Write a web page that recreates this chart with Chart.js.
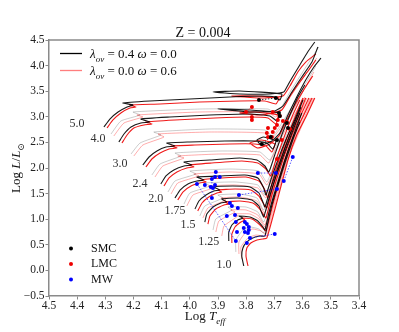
<!DOCTYPE html>
<html><head><meta charset="utf-8">
<script src="https://cdn.jsdelivr.net/npm/chart.js@4.4.1/dist/chart.umd.min.js"></script>
<style>html,body{margin:0;padding:0;background:#fff}canvas{display:block}</style>
</head><body>
<canvas id="c" width="399" height="332"></canvas>
<script>
// ---------- data (log Teff, log L) ----------
const xTicks = [4.5,4.4,4.3,4.2,4.1,4.0,3.9,3.8,3.7,3.6,3.5,3.4];
const yTicks = [-0.5,0.0,0.5,1.0,1.5,2.0,2.5,3.0,3.5,4.0,4.5];

// black tracks: lambda_ov = 0.4, omega = 0.0
const blk50 = [[4.305,2.801],[4.284,2.957],[4.255,3.094],[4.223,3.191],[4.202,3.230],[4.238,3.270],[4.142,3.309],[4.000,3.348],[3.858,3.387],[3.745,3.406],[3.699,3.387],[3.681,3.328],[3.674,3.445],[3.823,3.504],[3.918,3.484],[3.823,3.445],[3.716,3.445],[3.667,3.484],[3.652,3.621],[3.638,3.758],[3.610,4.012],[3.582,4.266],[3.557,4.461]];
const blk40 = [[4.252,2.508],[4.234,2.664],[4.209,2.801],[4.174,2.879],[4.142,2.898],[4.174,2.957],[4.071,2.996],[3.929,3.035],[3.787,3.055],[3.716,3.016],[3.691,2.918],[3.684,3.074],[3.787,3.133],[3.901,3.152],[3.787,3.094],[3.699,3.113],[3.670,3.211],[3.638,3.484],[3.603,3.777],[3.567,4.070],[3.546,4.363]];
const blk30 = [[4.167,2.059],[4.145,2.215],[4.117,2.332],[4.085,2.410],[4.053,2.430],[4.082,2.488],[4.000,2.508],[3.876,2.527],[3.770,2.527],[3.727,2.488],[3.706,2.371],[3.695,2.527],[3.738,2.605],[3.762,2.547],[3.748,2.449],[3.709,2.527],[3.681,2.684],[3.652,3.035],[3.621,3.387],[3.589,3.719],[3.560,3.973],[3.535,4.148]];
const blk24 = [[4.103,1.688],[4.085,1.844],[4.057,1.961],[4.021,2.039],[3.993,2.059],[4.021,2.117],[3.929,2.156],[3.823,2.195],[3.762,2.156],[3.734,2.039],[3.720,1.922],[3.699,2.254],[3.674,2.645],[3.645,3.035],[3.617,3.387],[3.592,3.621]];
const blk20 = [[4.053,1.414],[4.035,1.570],[4.007,1.688],[3.975,1.746],[3.950,1.766],[3.975,1.824],[3.894,1.844],[3.805,1.863],[3.759,1.805],[3.738,1.609],[3.730,1.473],[3.713,1.766],[3.688,2.156],[3.660,2.547],[3.628,2.938],[3.599,3.328]];
const blk175 = [[3.982,1.199],[3.968,1.355],[3.943,1.473],[3.915,1.551],[3.894,1.570],[3.915,1.629],[3.848,1.648],[3.787,1.629],[3.755,1.512],[3.741,1.336],[3.734,1.238],[3.716,1.570],[3.691,1.961],[3.663,2.391],[3.635,2.801],[3.606,3.191]];
const blk15 = [[3.947,0.945],[3.940,1.102],[3.918,1.238],[3.890,1.316],[3.869,1.336],[3.887,1.395],[3.830,1.414],[3.780,1.375],[3.755,1.258],[3.745,1.121],[3.738,1.043],[3.723,1.336],[3.699,1.766],[3.670,2.215],[3.638,2.684],[3.610,3.074]];
const blk125 = [[3.862,0.574],[3.862,0.750],[3.851,0.887],[3.830,0.984],[3.812,1.023],[3.826,1.063],[3.787,1.043],[3.759,0.965],[3.741,0.848],[3.734,0.789],[3.720,1.121],[3.702,1.473],[3.681,1.844],[3.656,2.273],[3.628,2.703],[3.603,3.074]];
const blk10 = [[3.809,0.086],[3.816,0.281],[3.812,0.438],[3.798,0.555],[3.777,0.633],[3.752,0.672],[3.734,0.672],[3.723,0.945],[3.709,1.277],[3.688,1.668],[3.663,2.098],[3.635,2.547],[3.610,2.898]];

// red tracks: lambda_ov = 0.0, omega = 0.6
const red50 = [[4.294,2.781],[4.273,2.938],[4.245,3.074],[4.213,3.172],[4.191,3.191],[4.213,3.230],[4.106,3.250],[3.965,3.289],[3.823,3.309],[3.734,3.309],[3.695,3.250],[3.684,3.367],[3.770,3.406],[3.851,3.406],[3.752,3.367],[3.670,3.406],[3.645,3.602],[3.617,3.875],[3.589,4.070],[3.553,4.227]];
const red40 = [[4.241,2.488],[4.223,2.645],[4.199,2.781],[4.163,2.840],[4.135,2.859],[4.156,2.898],[4.053,2.938],[3.911,2.977],[3.787,2.996],[3.723,2.977],[3.695,2.859],[3.688,3.035],[3.770,3.094],[3.823,3.074],[3.745,3.035],[3.674,3.133],[3.642,3.426],[3.610,3.680],[3.578,3.914],[3.553,4.109]];
const red30 = [[4.156,2.020],[4.135,2.176],[4.106,2.293],[4.074,2.371],[4.046,2.391],[4.067,2.430],[3.982,2.449],[3.858,2.469],[3.770,2.469],[3.730,2.430],[3.709,2.313],[3.699,2.469],[3.745,2.547],[3.787,2.488],[3.759,2.391],[3.716,2.469],[3.684,2.625],[3.656,2.938],[3.624,3.270],[3.592,3.563],[3.564,3.797]];
const red24 = [[4.092,1.648],[4.074,1.805],[4.046,1.922],[4.011,2.000],[3.986,2.020],[4.004,2.059],[3.922,2.098],[3.816,2.137],[3.759,2.098],[3.730,1.980],[3.713,1.844],[3.695,2.156],[3.663,2.645],[3.635,3.035],[3.610,3.328]];
const red20 = [[4.043,1.375],[4.025,1.531],[3.996,1.648],[3.965,1.707],[3.943,1.727],[3.961,1.766],[3.887,1.805],[3.801,1.824],[3.755,1.746],[3.734,1.570],[3.723,1.414],[3.706,1.766],[3.684,2.156],[3.652,2.645],[3.624,3.035],[3.599,3.367]];
const red175 = [[3.972,1.160],[3.957,1.316],[3.933,1.434],[3.904,1.512],[3.887,1.531],[3.901,1.570],[3.840,1.590],[3.784,1.570],[3.755,1.453],[3.738,1.297],[3.727,1.219],[3.709,1.570],[3.677,2.156],[3.645,2.645],[3.613,3.035],[3.589,3.367]];
const red15 = [[3.936,0.906],[3.929,1.063],[3.908,1.199],[3.879,1.277],[3.862,1.297],[3.876,1.336],[3.823,1.355],[3.777,1.316],[3.752,1.199],[3.738,1.082],[3.730,1.023],[3.709,1.473],[3.670,2.156],[3.638,2.645],[3.606,3.035],[3.578,3.367]];
const red125 = [[3.851,0.535],[3.851,0.711],[3.840,0.848],[3.819,0.945],[3.805,0.984],[3.816,1.023],[3.780,1.004],[3.755,0.906],[3.738,0.809],[3.730,0.770],[3.706,1.277],[3.663,2.156],[3.631,2.645],[3.596,3.035],[3.567,3.367]];
const red10 = [[3.794,0.086],[3.801,0.281],[3.798,0.438],[3.784,0.535],[3.762,0.594],[3.741,0.613],[3.727,0.633],[3.699,1.180],[3.652,2.156],[3.621,2.645],[3.585,3.035],[3.557,3.367]];

// faint tracks at intermediate masses (grey / pink)
const f45g = [[4.280,2.664],[4.245,2.918],[4.177,3.035],[4.202,3.094],[3.965,3.152],[3.723,3.152],[3.691,3.055],[3.645,3.484],[3.543,4.363]];
const f45p = [[4.270,2.625],[4.234,2.879],[4.167,2.996],[4.188,3.035],[3.965,3.094],[3.723,3.094],[3.695,2.996],[3.642,3.406],[3.550,4.148]];
const f35g = [[4.209,2.273],[4.177,2.488],[4.103,2.645],[4.128,2.703],[3.929,2.762],[3.734,2.742],[3.706,2.625],[3.645,3.133],[3.553,3.992]];
const f35p = [[4.199,2.234],[4.167,2.449],[4.092,2.605],[4.113,2.664],[3.929,2.703],[3.734,2.684],[3.709,2.566],[3.642,3.074],[3.560,3.875]];
const f27g = [[4.135,1.863],[4.106,2.078],[4.032,2.234],[4.053,2.293],[3.894,2.332],[3.752,2.313],[3.716,2.156],[3.670,2.742],[3.596,3.523]];
const f27p = [[4.124,1.824],[4.096,2.039],[4.021,2.195],[4.043,2.234],[3.894,2.273],[3.752,2.254],[3.720,2.098],[3.667,2.684],[3.592,3.387]];
const f22g = [[4.078,1.531],[4.053,1.746],[3.979,1.883],[4.000,1.941],[3.858,1.980],[3.755,1.941],[3.727,1.727],[3.688,2.254],[3.603,3.328]];
const f22p = [[4.067,1.492],[4.043,1.707],[3.968,1.844],[3.986,1.883],[3.858,1.922],[3.755,1.883],[3.727,1.668],[3.677,2.254],[3.592,3.367]];
const f19g = [[4.021,1.297],[4.000,1.512],[3.929,1.648],[3.947,1.707],[3.840,1.727],[3.759,1.668],[3.734,1.473],[3.695,1.961],[3.610,3.172]];
const f19p = [[4.011,1.258],[3.989,1.473],[3.918,1.609],[3.936,1.648],[3.840,1.668],[3.759,1.609],[3.730,1.414],[3.681,2.117],[3.596,3.367]];
const f16g = [[3.965,1.063],[3.947,1.258],[3.883,1.414],[3.901,1.473],[3.823,1.492],[3.762,1.414],[3.738,1.180],[3.699,1.766],[3.610,3.094]];
const f16p = [[3.954,1.023],[3.936,1.219],[3.872,1.375],[3.890,1.414],[3.823,1.434],[3.762,1.355],[3.734,1.121],[3.674,2.117],[3.585,3.367]];
const f14g = [[3.918,0.789],[3.908,1.004],[3.851,1.180],[3.865,1.238],[3.801,1.238],[3.759,1.141],[3.738,0.945],[3.695,1.668],[3.610,3.016]];
const f14p = [[3.908,0.750],[3.897,0.965],[3.840,1.141],[3.855,1.180],[3.801,1.180],[3.759,1.082],[3.734,0.887],[3.667,2.117],[3.574,3.367]];
const f13p = [[3.887,0.672],[3.879,0.867],[3.830,1.063],[3.840,1.102],[3.787,1.102],[3.755,1.004],[3.734,0.848],[3.663,2.117],[3.571,3.367]];
const f115g = [[3.837,0.359],[3.837,0.594],[3.812,0.789],[3.787,0.848],[3.755,0.809],[3.738,0.730],[3.709,1.277],[3.610,2.938]];
const f115p = [[3.826,0.320],[3.826,0.555],[3.801,0.750],[3.777,0.809],[3.748,0.770],[3.730,0.711],[3.660,2.117],[3.564,3.367]];
const f11p = [[3.816,0.223],[3.819,0.457],[3.794,0.633],[3.766,0.691],[3.741,0.672],[3.727,0.672],[3.656,2.117],[3.560,3.367]];

// mass labels
const massLabels = ['5.0','4.0','3.0','2.4','2.0','1.75','1.5','1.25','1.0'];
const massLabelT = [4.401,4.326,4.248,4.177,4.121,4.053,4.007,3.933,3.879];
const massLabelL = [2.859,2.566,2.078,1.688,1.395,1.160,0.887,0.555,0.105];

// observed stars
const smcT = [3.755,3.695,3.684,3.681,3.656,3.652,3.713,3.691,3.745];
const smcL = [3.328,3.367,3.074,3.016,2.879,2.781,2.605,2.547,2.469];
const lmcT = [3.780,3.801,3.780,3.780,3.706,3.681,3.688,3.670,3.656,3.691,3.723,3.699,3.645,3.727,3.706,3.709,3.674,3.723,3.691];
const lmcL = [3.191,3.094,2.996,2.938,3.094,3.016,2.938,2.918,2.898,2.840,2.781,2.781,2.762,2.684,2.703,2.605,2.547,2.605,2.176];
const mwT = [3.908,3.911,3.894,3.922,3.947,3.926,3.911,3.918,3.922,3.975,3.826,3.858,3.851,3.830,3.869,3.840,3.837,3.805,3.798,3.809,3.791,3.791,3.833,3.805,3.794,3.787,3.837,3.798,3.699,3.759,3.695,3.691,3.667,3.635];
const mwL = [1.922,1.824,1.824,1.785,1.668,1.629,1.668,1.609,1.414,1.688,1.473,1.316,1.258,1.219,1.063,1.082,0.945,0.945,0.906,0.828,0.848,0.789,0.750,0.750,0.730,0.633,0.574,0.535,0.711,1.902,1.902,1.590,1.746,2.215];
const smcPairs = [[0,1],[6,8]];
const lmcPairs = [[0,1],[2,3],[10,13]];
const mwPairs = [[9,26],[33,32],[29,30],[10,31],[3,8],[25,28]];

// ---------- build ----------
const SERIF = '"Liberation Serif","DejaVu Serif",serif';
const BLACK = 'rgba(0,0,0,0.9)';
const RED = 'rgba(238,0,0,0.9)';
const GREYF = 'rgba(0,0,0,0.2)';
const PINKF = 'rgba(255,0,0,0.33)';

function track(pts, color, width, order) {
  return { data: pts.map(p => ({x: p[0], y: p[1]})), showLine: true, borderColor: color,
    borderWidth: width, pointRadius: 0, tension: 0.15, order: order, fill: false };
}
function stars(T, L, color) {
  return { data: T.map((t, i) => ({x: t, y: L[i]})), showLine: false, pointRadius: 2,
    pointBackgroundColor: color, pointBorderWidth: 0, order: 0 };
}
function pairs(T, L, list, color) {
  return list.map(([a, b]) => ({ data: [{x: T[a], y: L[a]}, {x: T[b], y: L[b]}], showLine: true,
    borderColor: color, borderWidth: 1, borderDash: [1.5, 1.5], pointRadius: 0, order: 0.5 }));
}

const faint = [[f45g,GREYF],[f45p,PINKF],[f35g,GREYF],[f35p,PINKF],[f27g,GREYF],[f27p,PINKF],[f22g,GREYF],[f22p,PINKF],
  [f19g,GREYF],[f19p,PINKF],[f16g,GREYF],[f16p,PINKF],[f14g,GREYF],[f14p,PINKF],[f13p,PINKF],[f115g,GREYF],[f115p,PINKF],[f11p,PINKF]];
const blacks = [blk50,blk40,blk30,blk24,blk20,blk175,blk15,blk125,blk10];
const reds = [red50,red40,red30,red24,red20,red175,red15,red125,red10];

const datasets = [];
faint.forEach(([p, c]) => datasets.push(track(p, c, 1, 3)));
reds.forEach(p => datasets.push(track(p, RED, 1.1, 2)));
blacks.forEach(p => datasets.push(track(p, BLACK, 1.1, 1)));
datasets.push(...pairs(smcT, smcL, smcPairs, 'rgba(0,0,0,0.8)'));
datasets.push(...pairs(lmcT, lmcL, lmcPairs, 'rgba(230,0,0,0.8)'));
datasets.push(...pairs(mwT, mwL, mwPairs, 'rgba(40,40,255,0.75)'));
datasets.push(stars(smcT, smcL, '#000'));
datasets.push(stars(lmcT, lmcL, '#ee0000'));
datasets.push(stars(mwT, mwL, '#0000ff'));

function drawRich(ctx, parts, x, y, size, align) {
  const fontFor = (st, sz) => (st.indexOf('i') >= 0 ? 'italic ' : '') + sz + 'px ' + SERIF;
  let total = 0;
  const items = parts.map(([t, st]) => {
    const sub = st.indexOf('s') >= 0; const sz = sub ? Math.round(size * 0.72) : size;
    ctx.font = fontFor(st, sz); const w = ctx.measureText(t).width; total += w;
    return {t, st, sz, sub, w};
  });
  let cx = align === 'center' ? x - total / 2 : x;
  ctx.textAlign = 'left'; ctx.textBaseline = 'alphabetic';
  for (const it of items) {
    ctx.font = fontFor(it.st, it.sz);
    ctx.fillText(it.t, cx, y + (it.sub ? size * 0.28 : 0));
    cx += it.w;
  }
}

const decor = {
  id: 'decor',
  afterDraw(chart) {
    const ctx = chart.ctx, a = chart.chartArea, xs = chart.scales.x, ys = chart.scales.y;
    ctx.save();
    ctx.strokeStyle = '#8a8a8a'; ctx.lineWidth = 1.5;
    ctx.beginPath(); ctx.moveTo(a.left, a.top); ctx.lineTo(a.right, a.top); ctx.lineTo(a.right, a.bottom); ctx.stroke();
    ctx.fillStyle = '#111';
    drawRich(ctx, [['Z = 0.004', 'n']], 203, 37, 14, 'center');
    drawRich(ctx, [['Log ', 'n'], ['T', 'i'], ['eff', 'is']], 205, 320, 13, 'center');
    ctx.save(); ctx.translate(16, 168); ctx.rotate(-Math.PI / 2);
    drawRich(ctx, [['Log ', 'n'], ['L', 'i'], ['/', 'n'], ['L', 'i'], ['\u2299', 's']], 0, 4, 13, 'center');
    ctx.restore();
    ctx.fillStyle = '#333'; ctx.font = '12px ' + SERIF; ctx.textAlign = 'center'; ctx.textBaseline = 'middle';
    massLabels.forEach((m, i) => ctx.fillText(m, xs.getPixelForValue(massLabelT[i]), ys.getPixelForValue(massLabelL[i])));
    ctx.lineWidth = 1.3;
    ctx.strokeStyle = '#000'; ctx.beginPath(); ctx.moveTo(60, 53.5); ctx.lineTo(82, 53.5); ctx.stroke();
    ctx.strokeStyle = 'rgba(255,40,40,0.6)'; ctx.beginPath(); ctx.moveTo(60, 70.5); ctx.lineTo(82, 70.5); ctx.stroke();
    ctx.fillStyle = '#111';
    drawRich(ctx, [['\u03bb', 'i'], ['ov', 'is'], [' = 0.4 ', 'n'], ['\u03c9', 'i'], [' = 0.0', 'n']], 90, 58, 13, 'left');
    drawRich(ctx, [['\u03bb', 'i'], ['ov', 'is'], [' = 0.0 ', 'n'], ['\u03c9', 'i'], [' = 0.6', 'n']], 90, 75, 13, 'left');
    const lg = [['SMC', '#000', 248.5], ['LMC', '#ee0000', 264], ['MW', '#0000ff', 279.5]];
    lg.forEach(([t, c, y]) => {
      ctx.fillStyle = c; ctx.beginPath(); ctx.arc(71, y, 2, 0, Math.PI * 2); ctx.fill();
      ctx.fillStyle = '#111'; ctx.font = '12px ' + SERIF; ctx.textAlign = 'left'; ctx.textBaseline = 'middle';
      ctx.fillText(t, 91, y);
    });
    ctx.restore();
  }
};

Chart.defaults.font.family = SERIF;
new Chart(document.getElementById('c'), {
  type: 'scatter',
  data: { datasets },
  options: {
    responsive: false, animation: false, devicePixelRatio: 1,
    layout: { padding: { top: 40, right: 40, left: 0, bottom: 0 } },
    plugins: { legend: { display: false }, tooltip: { enabled: false }, title: { display: false } },
    scales: {
      x: {
        type: 'linear', reverse: true, min: 3.4, max: 4.5,
        afterBuildTicks: s => { s.ticks = xTicks.map(v => ({value: v})); },
        afterFit: s => { s.height = 36; },
        ticks: { font: { family: SERIF, size: 11.5 }, color: '#222', padding: 0, maxRotation: 0, autoSkip: false,
          callback: v => Number(v).toFixed(1) },
        grid: { drawOnChartArea: false, drawTicks: true, tickLength: 3.5, color: '#8a8a8a' },
        border: { color: '#8a8a8a', width: 1.5 }
      },
      y: {
        type: 'linear', min: -0.5, max: 4.5,
        afterBuildTicks: s => { s.ticks = yTicks.map(v => ({value: v})); },
        afterFit: s => { s.width = 49; },
        ticks: { font: { family: SERIF, size: 11.5 }, color: '#222', padding: 1, autoSkip: false,
          callback: v => (v < 0 ? '\u2212' + Math.abs(v).toFixed(1) : Number(v).toFixed(1)) },
        grid: { drawOnChartArea: false, drawTicks: true, tickLength: 3.5, color: '#8a8a8a' },
        border: { color: '#8a8a8a', width: 1.5 }
      }
    }
  },
  plugins: [decor]
});
</script></body></html>
